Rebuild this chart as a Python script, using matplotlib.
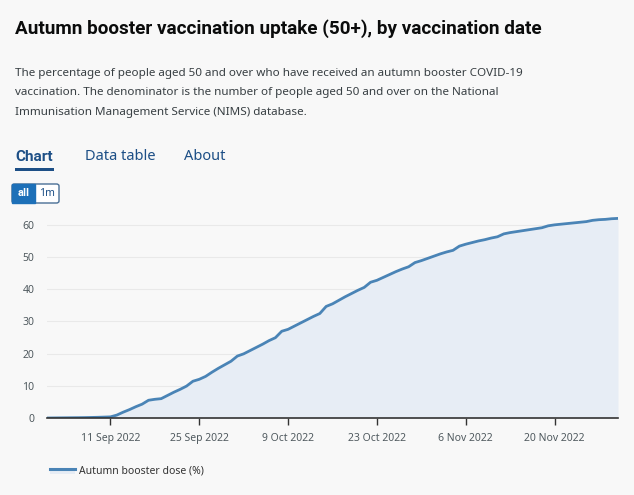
import datetime as dt
import matplotlib
matplotlib.use("Agg")
import matplotlib.pyplot as plt
from matplotlib.patches import FancyBboxPatch, Rectangle

# daily uptake (%) from 1 Sep 2022 to 30 Nov 2022
start = dt.date(2022, 9, 1)
uptake = [
    0.0, 0.02, 0.04, 0.06, 0.08, 0.1, 0.13, 0.17, 0.22, 0.28,
    0.35, 0.9, 1.8, 2.6, 3.5, 4.3, 5.5, 5.8, 6.0, 7.0,
    8.0, 8.9, 9.9, 11.4, 12.0, 12.9, 14.2, 15.4, 16.5, 17.6,
    19.2, 19.9, 20.9, 21.9, 22.9, 24.0, 24.9, 26.9, 27.5, 28.5,
    29.5, 30.5, 31.5, 32.4, 34.6, 35.4, 36.5, 37.6, 38.6, 39.6,
    40.5, 42.1, 42.7, 43.6, 44.5, 45.4, 46.2, 46.9, 48.2, 48.8,
    49.5, 50.2, 50.9, 51.5, 52.0, 53.3, 53.9, 54.4, 54.9, 55.3,
    55.8, 56.2, 57.1, 57.5, 57.8, 58.1, 58.4, 58.7, 59.0, 59.6,
    59.9, 60.1, 60.3, 60.5, 60.7, 60.9, 61.3, 61.5, 61.6, 61.8,
    61.9,
]
dates = [start + dt.timedelta(days=i) for i in range(len(uptake))]

tick_dates = [dt.date(2022, 9, 11), dt.date(2022, 9, 25), dt.date(2022, 10, 9),
              dt.date(2022, 10, 23), dt.date(2022, 11, 6), dt.date(2022, 11, 20)]
tick_labels = ["11 Sep 2022", "25 Sep 2022", "9 Oct 2022",
               "23 Oct 2022", "6 Nov 2022", "20 Nov 2022"]
y_ticks = [0, 10, 20, 30, 40, 50, 60]

title = "Autumn booster vaccination uptake (50+), by vaccination date"
desc = ["The percentage of people aged 50 and over who have received an autumn booster COVID-19",
        "vaccination. The denominator is the number of people aged 50 and over on the National",
        "Immunisation Management Service (NIMS) database."]
series_name = "Autumn booster dose (%)"

bg = "#f8f8f8"
line_col = "#4a84b6"
fill_col = "#e7edf5"
text_col = "#505a5f"
blue = "#1d70b8"
dark_blue = "#1d4f86"

plt.rcParams['font.family'] = ['Noto Sans', 'DejaVu Sans']
bold_family = ['Roboto', 'DejaVu Sans']

W, H = 634, 495
fig = plt.figure(figsize=(W / 100, H / 100), dpi=100, facecolor=bg)

def fx(px):
    return px / W

def fy(py):
    return 1 - py / H

# header texts
fig.text(fx(15), fy(29), title, fontsize=13.6, fontweight='bold', family=bold_family,
         color="#0b0c0c", va='center')
for i, line in enumerate(desc):
    fig.text(fx(15), fy(73 + 20 * i), line, fontsize=8.4, color="#383f43", va='center')

# tabs
fig.text(fx(15), fy(157), "Chart", fontsize=11, fontweight='bold', family=bold_family,
         color=dark_blue, va='center')
fig.add_artist(Rectangle((fx(15), fy(171)), fx(39), 3 / H, transform=fig.transFigure,
                         color=dark_blue, lw=0))
fig.text(fx(85), fy(157), "Data table", fontsize=10.5, color=dark_blue, va='center')
fig.text(fx(184), fy(157), "About", fontsize=10.5, color=dark_blue, va='center')

# range buttons
fig.add_artist(FancyBboxPatch((fx(12), fy(203)), fx(47), 19 / H, transform=fig.transFigure,
                              boxstyle="round,pad=0,rounding_size=0.004", fc="white",
                              ec="#4a6f96", lw=1))
fig.add_artist(Rectangle((fx(12), fy(203)), fx(23), 19 / H, transform=fig.transFigure,
                         fc=blue, ec=blue, lw=1))
fig.text(fx(23.5), fy(193.5), "all", fontsize=8, fontweight='bold', family=bold_family,
         color="white", ha='center', va='center')
fig.text(fx(47), fy(193.5), "1m", fontsize=7.5, color=dark_blue, ha='center', va='center')

# chart area
ax = fig.add_axes([fx(47), fy(418), fx(618 - 47), 209.6 / H])
ax.set_facecolor(bg)
ax.fill_between(dates, uptake, 0, color=fill_col, lw=0)
ax.plot(dates, uptake, color=line_col, lw=2)

ax.set_xlim(dates[0], dates[-1])
ax.set_ylim(0, 65)
ax.set_yticks(y_ticks)
ax.set_yticklabels([str(v) for v in y_ticks])
ax.set_xticks(tick_dates)
ax.set_xticklabels(tick_labels)
ax.grid(axis='y', color="#e9e9e9", lw=0.8)
ax.set_axisbelow(True)
for s in ['top', 'right', 'left']:
    ax.spines[s].set_visible(False)
ax.spines['bottom'].set_color("#333333")
ax.spines['bottom'].set_linewidth(1.2)
ax.tick_params(axis='y', length=0, pad=9, labelsize=7.5, labelcolor=text_col)
ax.tick_params(axis='x', length=5, width=1, color="#333333", pad=6,
               labelsize=7.5, labelcolor=text_col)

# legend
fig.add_artist(Rectangle((fx(50), fy(474)), fx(25), 5 / H, transform=fig.transFigure,
                         fc=fill_col, lw=0))
fig.add_artist(plt.Line2D([fx(50), fx(75)], [fy(469), fy(469)], transform=fig.transFigure,
                          color=line_col, lw=2.2))
fig.text(fx(79), fy(471), series_name, fontsize=7.5, color="#333333", va='center')

fig.savefig("out.png", dpi=100, facecolor=bg)
